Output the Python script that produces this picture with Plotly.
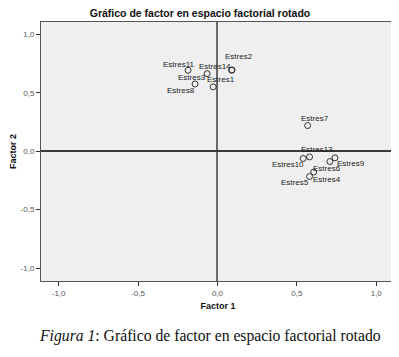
import plotly.graph_objects as go

labels = ["Estres11", "Estres14", "Estres2", "Estres3", "Estres1", "Estres8",
          "Estres7", "Estres13", "Estres10", "Estres9", "Estres6", "Estres4", "Estres5"]
factor1 = [-0.185, 0.089, 0.092, -0.065, -0.027, -0.141,
           0.568, 0.580, 0.540, 0.740, 0.708, 0.606, 0.580]
factor2 = [0.692, 0.692, 0.695, 0.663, 0.550, 0.575,
           0.219, -0.049, -0.063, -0.057, -0.089, -0.179, -0.217]
tick_vals = [-1.0, -0.5, 0.0, 0.5, 1.0]
tick_text = ["-1,0", "-0,5", "0,0", "0,5", "1,0"]

# label offsets in pixels (dx right, dy down) relative to each point
label_dx = [-9, -16.5, 7, -15, 7.7, -14.5, 7, 7, -15.5, 15.7, -2.5, 13.3, -15]
label_dy = [-6, -3.6, -13.6, 3.6, -7, 7, -7.4, -7.7, 5.6, 5.3, 6.6, 7.4, 6]

# the page body adds an 8px offset; the figure is sized to fit the window
OFF = 8
W, H = 399 - OFF, 357 - OFF

fig = go.Figure()
fig.add_trace(go.Scatter(
    x=factor1, y=factor2, mode="markers",
    marker=dict(symbol="circle-open", size=6, color="#333", line=dict(width=1)),
    cliponaxis=False, showlegend=False, hoverinfo="skip",
))

annotations = []
for lab, xv, yv, dx, dy in zip(labels, factor1, factor2, label_dx, label_dy):
    annotations.append(dict(
        text=lab, x=xv, y=yv, xref="x", yref="y", showarrow=False,
        xshift=dx, yshift=-dy, xanchor="center", yanchor="middle",
        font=dict(family="Liberation Sans, Arial", size=8, color="#222"),
    ))

annotations.append(dict(
    text="<i>Figura 1</i>: Gráfico de factor en espacio factorial rotado",
    xref="paper", yref="paper", x=(210 - 41) / 354, y=-(336 - 281) / 259,
    xanchor="center", yanchor="middle", showarrow=False,
    font=dict(family="Liberation Serif, Times New Roman", size=15.7, color="#111"),
))

axis_common = dict(
    tickvals=tick_vals, ticktext=tick_text, ticks="outside", ticklen=4,
    tickcolor="#333", tickfont=dict(family="Liberation Sans, Arial", size=8, color="#555"),
    showgrid=False, zeroline=True, showline=True, linecolor="#555", linewidth=1,
    mirror=True, automargin=False,
)

fig.update_layout(
    width=W, height=H,
    margin=dict(l=41 - OFF, r=4, t=22 - OFF, b=76, autoexpand=False),
    paper_bgcolor="white", plot_bgcolor="#efefef",
    title=dict(text="<b>Gráfico de factor en espacio factorial rotado</b>",
               x=(200 - OFF) / W, xref="container", xanchor="center",
               y=1 - (13 - OFF) / H, yref="container", yanchor="middle",
               font=dict(family="Liberation Sans, Arial", size=10.5, color="#111")),
    xaxis=dict(range=[-1.111, 1.118], zerolinecolor="#6a6a6a", zerolinewidth=2,
               title=dict(text="<b>Factor 1</b>", standoff=6,
                          font=dict(family="Liberation Sans, Arial", size=9, color="#111")),
               **axis_common),
    yaxis=dict(range=[-1.111, 1.105], zerolinecolor="#3a3a3a", zerolinewidth=1.5,
               title=dict(text="<b>Factor 2</b>", standoff=4,
                          font=dict(family="Liberation Sans, Arial", size=9, color="#111")),
               **axis_common),
    annotations=annotations,
)

fig.write_html("out.html")
